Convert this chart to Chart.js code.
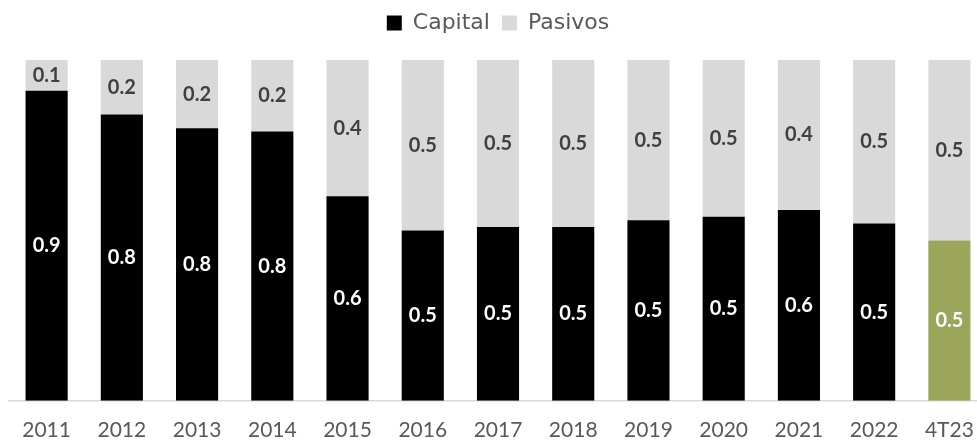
<!DOCTYPE html>
<html>
<head>
<meta charset="utf-8">
<script src="https://cdn.jsdelivr.net/npm/chart.js@4/dist/chart.umd.min.js"></script>
<style>
  html, body { margin: 0; padding: 0; background: #fff; overflow: hidden; }
  #wrap { width: 988px; height: 452px; }
</style>
</head>
<body>
<div id="wrap"><canvas id="grafico"></canvas></div>
<script>
const categorias = ['2011', '2012', '2013', '2014', '2015', '2016', '2017', '2018', '2019', '2020', '2021', '2022', '4T23'];
const capital = [0.91, 0.84, 0.80, 0.79, 0.60, 0.50, 0.51, 0.51, 0.53, 0.54, 0.56, 0.52, 0.47];
const pasivos = [0.09, 0.16, 0.20, 0.21, 0.40, 0.50, 0.49, 0.49, 0.47, 0.46, 0.44, 0.48, 0.53];

const fuente = 'Lato, "DejaVu Sans", sans-serif';

// colores de capital: el último (4T23) en verde
const coloresCapital = categorias.map((c, i) => i === categorias.length - 1 ? '#9BA65B' : '#000000');

// etiquetas de datos dentro de cada segmento
const etiquetas = {
    id: 'etiquetas',
    afterDatasetsDraw(chart) {
        const ctx = chart.ctx;
        ctx.save();
        ctx.font = 'bold 20px ' + fuente;
        ctx.textAlign = 'center';
        ctx.textBaseline = 'middle';
        chart.data.datasets.forEach((ds, d) => {
            const meta = chart.getDatasetMeta(d);
            meta.data.forEach((bar, i) => {
                const v = ds.data[i];
                ctx.fillStyle = d === 0 ? '#FFFFFF' : '#404040';
                const y = (bar.y + bar.base) / 2;
                ctx.fillText(v.toFixed(1), bar.x, y);
            });
        });
        ctx.restore();
    }
};

// más espacio debajo de la leyenda
const margenLeyenda = {
    id: 'margenLeyenda',
    beforeInit(chart) {
        const fitOriginal = chart.legend.fit;
        chart.legend.fit = function () {
            fitOriginal.bind(chart.legend)();
            this.height += 16;
        };
    }
};

new Chart(document.getElementById('grafico'), {
    type: 'bar',
    data: {
        labels: categorias,
        datasets: [
            {
                label: 'Capital',
                data: capital,
                backgroundColor: coloresCapital,
                borderWidth: 0
            },
            {
                label: 'Pasivos',
                data: pasivos,
                backgroundColor: '#D9D9D9',
                borderWidth: 0
            }
        ]
    },
    options: {
        responsive: true,
        maintainAspectRatio: false,
        animation: false,
        layout: { padding: { left: 9, right: 1, top: 0, bottom: 0 } },
        datasets: { bar: { categoryPercentage: 0.56, barPercentage: 1 } },
        scales: {
            x: {
                stacked: true,
                grid: { display: false },
                border: { color: '#D9D9D9', width: 1.5 },
                ticks: { color: '#595959', font: { family: fuente, size: 21 }, padding: 9, maxRotation: 0 }
            },
            y: {
                stacked: true,
                display: false,
                min: 0,
                max: 1
            }
        },
        plugins: {
            legend: {
                position: 'top',
                labels: {
                    color: '#595959',
                    font: { family: '"DejaVu Sans", sans-serif', size: 22 },
                    boxWidth: 15,
                    boxHeight: 15,
                    padding: 12
                }
            },
            tooltip: { enabled: false }
        }
    },
    plugins: [etiquetas, margenLeyenda]
});
</script>
</body>
</html>
